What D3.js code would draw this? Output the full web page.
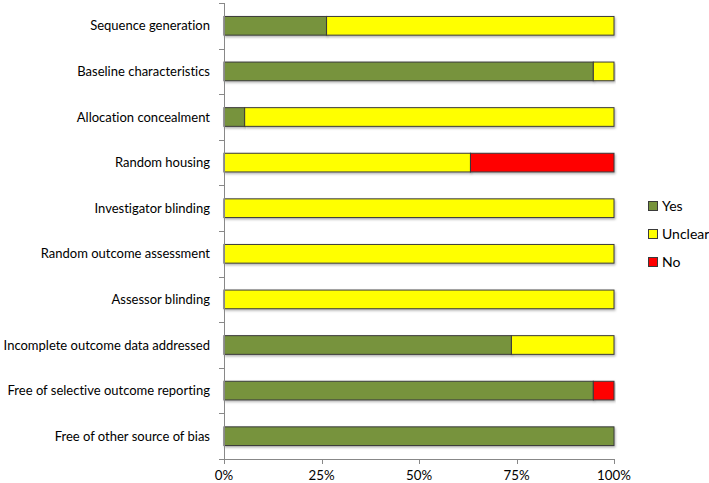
<!DOCTYPE html>
<html><head><meta charset="utf-8">
<script src="https://cdn.jsdelivr.net/npm/d3@7"></script>
<style>body{margin:0;background:#fff}svg{display:block}text{font-family:Lato,"Open Sans",sans-serif;fill:#000;font-variant-ligatures:none;font-feature-settings:"liga" 0}</style>
</head><body><svg id="c" width="709" height="483"></svg>
<script>
const categories = ["Sequence generation","Baseline characteristics","Allocation concealment","Random housing","Investigator blinding","Random outcome assessment","Assessor blinding","Incomplete outcome data addressed","Free of selective outcome reporting","Free of other source of bias"];
const yesPct = [26.3, 94.7, 5.3, 0, 0, 0, 0, 73.7, 94.7, 100];
const unclearPct = [73.7, 5.3, 94.7, 63.2, 100, 100, 100, 26.3, 0, 0];
const noPct = [0, 0, 0, 36.8, 0, 0, 0, 0, 5.3, 0];
const seriesNames = ["Yes","Unclear","No"];
const colors = ["#77933C","#FFFF00","#FF0000"];
const tickValues = [0,25,50,75,100];

(function(){
const svg = d3.select("#c");
const L = 224, R = 614, T = 3, B = 459;
const x = d3.scaleLinear().domain([0,100]).range([L,R]);
const y = d3.scaleBand().domain(categories).range([T,B]).paddingInner(0.59).paddingOuter(0.295);

const defs = svg.append("defs");
const f = defs.append("filter").attr("id","sh").attr("x","-5%").attr("y","-30%").attr("width","110%").attr("height","170%");
f.append("feDropShadow").attr("dx",1).attr("dy",1.5).attr("stdDeviation",1).attr("flood-color","#000").attr("flood-opacity",0.3);

const rows = categories.map((c,i)=>({c, vals:[yesPct[i],unclearPct[i],noPct[i]]}));
const stacked = d3.stack().keys([0,1,2]).value((d,k)=>d.vals[k])(rows);

const g = svg.append("g");
stacked.forEach((layer,k)=>{
  g.selectAll(null).data(layer.filter(d=>d[1]-d[0]>0)).enter().append("rect")
    .attr("x",d=>x(d[0])).attr("y",d=>y(d.data.c))
    .attr("width",d=>x(d[1])-x(d[0])).attr("height",y.bandwidth())
    .attr("fill",colors[k]).attr("stroke","#3a3a3a").attr("stroke-width",1)
    .attr("filter","url(#sh)");
});

const ya = svg.append("g");
ya.append("line").attr("x1",L+0.5).attr("x2",L+0.5).attr("y1",T).attr("y2",B).attr("stroke","#888");
const bounds = d3.range(categories.length+1).map(i=>T+i*(B-T)/categories.length);
ya.selectAll(null).data(bounds).enter().append("line")
  .attr("x1",L-5).attr("x2",L+0.5).attr("y1",d=>Math.round(d)+0.5).attr("y2",d=>Math.round(d)+0.5).attr("stroke","#888");
ya.selectAll(null).data(categories).enter().append("text")
  .attr("x",L-14).attr("y",d=>y(d)+y.bandwidth()/2).attr("dy","0.35em")
  .attr("text-anchor","end").attr("font-size",13).text(d=>d);

const xa = svg.append("g");
xa.append("line").attr("x1",L).attr("x2",R+0.5).attr("y1",B+0.5).attr("y2",B+0.5).attr("stroke","#888");
xa.selectAll(null).data(tickValues).enter().append("line")
  .attr("x1",d=>Math.round(x(d))+0.5).attr("x2",d=>Math.round(x(d))+0.5).attr("y1",B).attr("y2",B+5).attr("stroke","#888");
xa.selectAll(null).data(tickValues).enter().append("text")
  .attr("x",d=>x(d)).attr("y",475).attr("dy","0.35em").attr("text-anchor","middle").attr("font-size",13.3).text(d=>d+"%");

const lg = svg.append("g");
const ly = [206,234,262];
seriesNames.forEach((n,i)=>{
  lg.append("rect").attr("x",648.5).attr("y",ly[i]-4.5).attr("width",9).attr("height",9).attr("fill",colors[i]).attr("stroke","#3a3a3a");
  lg.append("text").attr("x",662).attr("y",ly[i]).attr("dy","0.35em").attr("font-size",14).text(n);
});
})();
</script></body></html>
